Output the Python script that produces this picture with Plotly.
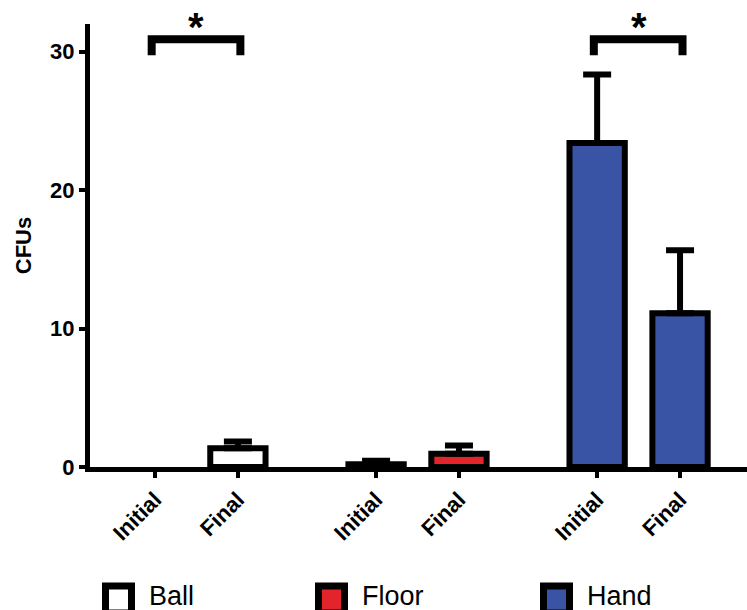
import plotly.graph_objects as go

# ---- data ----
groups = ["Ball", "Floor", "Hand"]
time_points = ["Initial", "Final"]
ball_cfu = [0.0, 1.35]
ball_sem = [0.0, 0.5]
floor_cfu = [0.2, 0.95]
floor_sem = [0.25, 0.6]
hand_cfu = [23.4, 11.1]
hand_sem = [4.95, 4.55]
y_tick_values = [0, 10, 20, 30]
significant_groups = ["Ball", "Hand"]

colors = {"Ball": "#ffffff", "Floor": "#e3242b", "Hand": "#3a54a5"}
values = {"Ball": ball_cfu, "Floor": floor_cfu, "Hand": hand_cfu}
errors = {"Ball": ball_sem, "Floor": floor_sem, "Hand": hand_sem}

# ---- layout geometry ----
W, H = 747, 610
ML, MR, MT, MB = 90, 0, 24, 143
GROUP_STEP = 8 / 3
FONT = "Liberation Sans, Arial, sans-serif"


def group_x(g):
    base = groups.index(g) * GROUP_STEP
    return [base + i for i in range(len(time_points))]


def paper_x(px):
    return (px - ML) / (W - ML - MR)


def paper_y(py):
    return 1 - (py - MT) / (H - MT - MB)


fig = go.Figure()

for g in groups:
    xs = group_x(g)
    # empty bars (value 0) get no outline
    outline = [6 if v > 0 else 0 for v in values[g]]
    fig.add_trace(go.Bar(
        name=g,
        x=xs,
        y=values[g],
        width=0.667,
        marker=dict(color=colors[g], line=dict(color="black", width=outline)),
        showlegend=False,
    ))
    # upward-only SEM whiskers, only where there is a spread
    ex = [x for x, e in zip(xs, errors[g]) if e > 0]
    ey = [v for v, e in zip(values[g], errors[g]) if e > 0]
    ee = [e for e in errors[g] if e > 0]
    fig.add_trace(go.Scatter(
        x=ex, y=ey, mode="markers",
        marker=dict(size=0.1, color="black", opacity=0),
        error_y=dict(type="data", array=ee, arrayminus=[0] * len(ee),
                     symmetric=False, color="black", thickness=6, width=14),
        showlegend=False, hoverinfo="skip",
    ))

tick_vals, tick_text = [], []
for g in groups:
    tick_vals += group_x(g)
    tick_text += time_points

shapes, annotations = [], []

# significance brackets
for g in significant_groups:
    x0, x1 = group_x(g)
    y_bar, y_leg = 30.9, 29.75
    shapes.append(dict(
        type="path", xref="x", yref="y",
        path=f"M {x0 - 0.04},{y_leg} L {x0 - 0.04},{y_bar} L {x1 + 0.03},{y_bar} L {x1 + 0.03},{y_leg}",
        line=dict(color="black", width=8),
    ))
    annotations.append(dict(
        x=(x0 + x1) / 2, y=31.75, xref="x", yref="y", text="*",
        showarrow=False, yanchor="middle", xanchor="center",
        font=dict(family=FONT, size=40, color="black", weight="bold"),
    ))

# legend drawn as boxes with labels
legend_left = {"Ball": 102, "Floor": 315, "Hand": 540}
for g in groups:
    bx = legend_left[g]
    x0, x1 = paper_x(bx + 3.5), paper_x(bx + 29.5)
    y0, y1 = paper_y(586), paper_y(613)
    shapes.append(dict(
        type="rect", xref="paper", yref="paper",
        x0=x0, x1=x1, y0=y0, y1=y1,
        fillcolor=colors[g], line=dict(color="black", width=7),
    ))
    annotations.append(dict(
        x=paper_x(bx + 45), y=paper_y(596), xref="paper", yref="paper",
        text=g, showarrow=False, xanchor="left", yanchor="middle",
        font=dict(family=FONT, size=27, color="black"),
    ))

fig.update_layout(
    width=W, height=H,
    margin=dict(l=ML, r=MR, t=MT, b=MB, pad=0),
    paper_bgcolor="white", plot_bgcolor="white",
    barmode="overlay",
    shapes=shapes, annotations=annotations,
    font=dict(family=FONT, color="black"),
    xaxis=dict(
        range=[-0.784, 7.141],
        tickmode="array", tickvals=tick_vals, ticktext=tick_text,
        tickangle=-45,
        tickfont=dict(family=FONT, size=22, color="black", weight="bold"),
        ticks="outside", ticklen=6, tickwidth=3.5, tickcolor="black",
        showline=True, linewidth=5, linecolor="black",
        showgrid=False, zeroline=False,
    ),
    yaxis=dict(
        range=[0, 32],
        tickmode="array", tickvals=y_tick_values,
        tickfont=dict(family=FONT, size=22, color="black", weight="bold"),
        ticks="outside", ticklen=6, tickwidth=3.5, tickcolor="black",
        showline=True, linewidth=5, linecolor="black",
        showgrid=False, zeroline=False,
        title=dict(text="CFUs", standoff=14,
                   font=dict(family=FONT, size=22, color="black", weight="bold")),
    ),
)

fig.write_html("out.html")
